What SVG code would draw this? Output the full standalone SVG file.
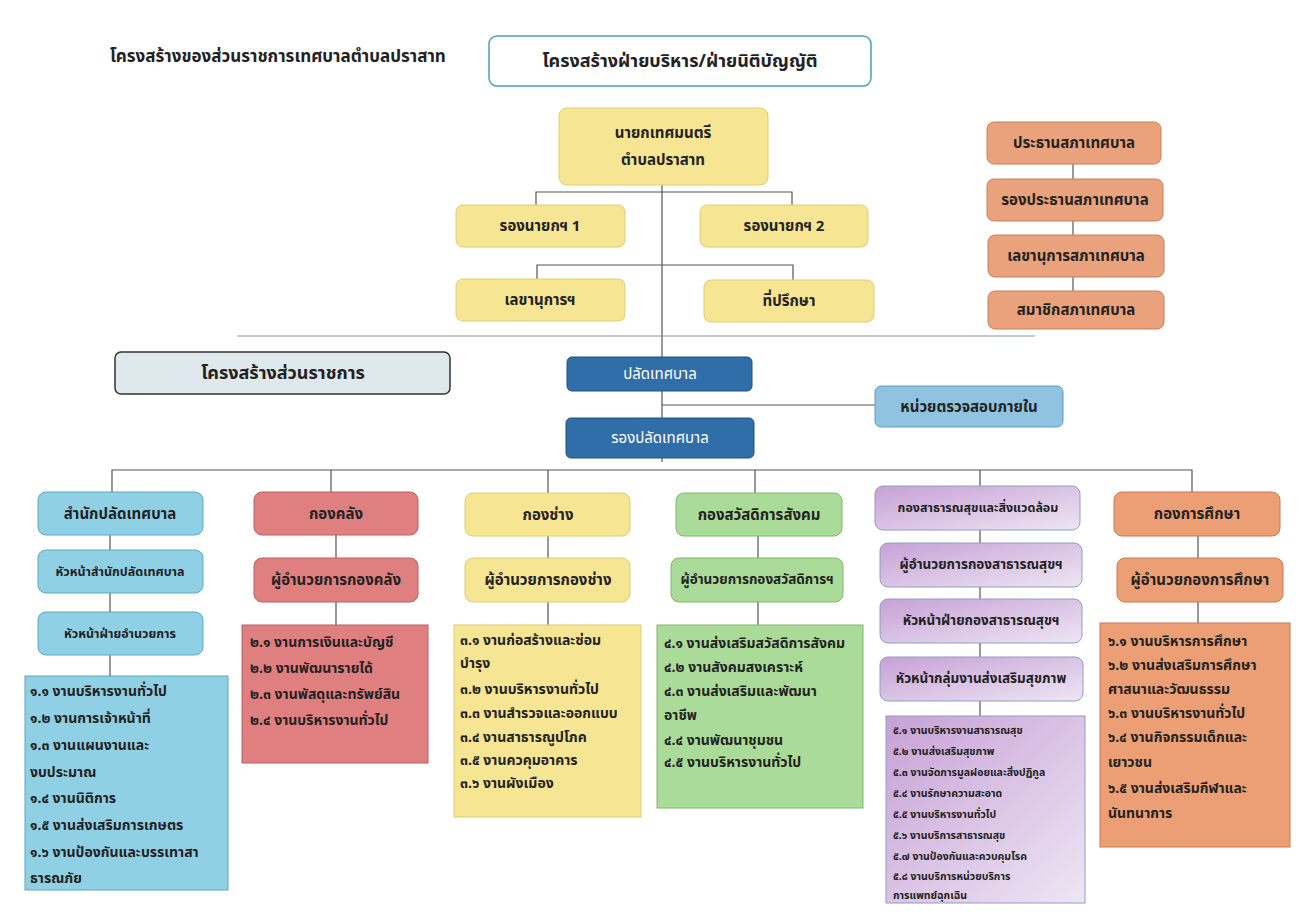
<svg xmlns="http://www.w3.org/2000/svg" width="1300" height="917" viewBox="0 0 1300 917">
<defs>
<style>
text{font-family:"Noto Sans Thai","Noto Sans","DejaVu Sans",sans-serif;font-weight:bold;fill:#222;font-size:15px}
.c{text-anchor:middle;dominant-baseline:central}
.ln{stroke:#555;stroke-width:1.2;fill:none}
.y{fill:#f6e592;stroke:#e0cc70}
.o{fill:#e9a27c;stroke:#c97e58}
.b1{fill:#8fd0e5;stroke:#5aa8c4}
.r{fill:#e07f80;stroke:#b86060}
.g{fill:#abdb98;stroke:#7fb76e}
.p{fill:url(#pg);stroke:#8aa0c4}
.or{fill:#ec9f74;stroke:#c87a50}
.db{fill:#2f6ea9;stroke:#21527f}
.lst text{font-size:14px}
.sm text{font-size:10.5px}
</style>
<linearGradient id="pg" x1="0" y1="0" x2="1" y2="1"><stop offset="0" stop-color="#c7a1d6"/><stop offset="1" stop-color="#eee6f4"/></linearGradient>
</defs>
<rect width="1300" height="917" fill="#fff"/>
<text x="110" y="57" style="font-size:17px" dominant-baseline="central">โครงสร้างของส่วนราชการเทศบาลตำบลปราสาท</text>
<g id="connectors" class="ln">
<path d="M662 185V462M536 205V192H792V205M537 280V265H793V280M662 405H875"/>
<path d="M1073 164V291"/>
<path d="M237 336H1035" stroke="#7f98a8"/>
<path d="M112 492V470H1192V492M331 470V492M548 470V493M755 470V493M980 470V486"/>
<path d="M110 535V550M110 593V612M110 655V676M336 535V558M336 602V625M548 536V558M548 602V625M758 536V558M758 602V625M980 530V543M980 587V599M980 643V657M980 701V716M1198 536V558M1198 602V623"/>
</g>
<g id="header"><rect x="489" y="36" width="382" height="50" rx="8" fill="#fff" stroke="#4aa3b2" stroke-width="1.5"/><text class="c" x="680" y="61" style="font-size:18px">โครงสร้างฝ่ายบริหาร/ฝ่ายนิติบัญญัติ</text></g>
<g id="mayor"><rect class="y" x="559" y="108" width="209" height="77" rx="8"/><text class="c" x="663" y="133">นายกเทศมนตรี</text><text class="c" x="663" y="160">ตำบลปราสาท</text></g>
<g id="deputy1"><rect class="y" x="456" y="205" width="169" height="42" rx="7"/><text class="c" x="540" y="226">รองนายกฯ 1</text></g>
<g id="deputy2"><rect class="y" x="700" y="205" width="168" height="42" rx="7"/><text class="c" x="784" y="226">รองนายกฯ 2</text></g>
<g id="secretary"><rect class="y" x="456" y="279" width="169" height="42" rx="7"/><text class="c" x="540" y="300">เลขานุการฯ</text></g>
<g id="advisor"><rect class="y" x="704" y="280" width="170" height="42" rx="7"/><text class="c" x="789" y="301">ที่ปรึกษา</text></g>
<g id="council1"><rect class="o" x="987" y="122" width="174" height="42" rx="7"/><text class="c" x="1074" y="143">ประธานสภาเทศบาล</text></g>
<g id="council2"><rect class="o" x="987" y="179" width="176" height="42" rx="7"/><text class="c" x="1075" y="200">รองประธานสภาเทศบาล</text></g>
<g id="council3"><rect class="o" x="988" y="235" width="176" height="42" rx="7"/><text class="c" x="1076" y="256">เลขานุการสภาเทศบาล</text></g>
<g id="council4"><rect class="o" x="988" y="291" width="176" height="38" rx="7"/><text class="c" x="1076" y="310">สมาชิกสภาเทศบาล</text></g>
<g id="govlabel"><rect x="115" y="352" width="335" height="42" rx="6" fill="#dfe8ec" stroke="#333" stroke-width="1.5"/><text class="c" x="283" y="373" style="font-size:18px">โครงสร้างส่วนราชการ</text></g>
<g id="palad"><rect class="db" x="567" y="357" width="185" height="34" rx="5"/><text class="c" x="660" y="374" style="fill:#fff;font-weight:normal">ปลัดเทศบาล</text></g>
<g id="rongpalad"><rect class="db" x="566" y="418" width="188" height="40" rx="5"/><text class="c" x="660" y="438" style="fill:#fff;font-weight:normal">รองปลัดเทศบาล</text></g>
<g id="audit"><rect x="875" y="386" width="188" height="41" rx="6" fill="#8fc3e0" stroke="#5f9cc2"/><text class="c" x="969" y="407">หน่วยตรวจสอบภายใน</text></g>

<g id="col1">
<rect class="b1" x="38" y="492" width="165" height="43" rx="8"/><text class="c" x="120" y="514">สำนักปลัดเทศบาล</text>
<rect class="b1" x="38" y="550" width="165" height="43" rx="8"/><text class="c" x="120" y="572" style="font-size:12.5px">หัวหน้าสำนักปลัดเทศบาล</text>
<rect class="b1" x="38" y="612" width="165" height="43" rx="8"/><text class="c" x="120" y="634" style="font-size:12.5px">หัวหน้าฝ่ายอำนวยการ</text>
<rect class="b1" x="25" y="676" width="203" height="214"/>
<g class="lst"><text x="30" y="696">๑.๑ งานบริหารงานทั่วไป</text><text x="30" y="723">๑.๒ งานการเจ้าหน้าที่</text><text x="30" y="750">๑.๓ งานแผนงานและ</text><text x="30" y="777">งบประมาณ</text><text x="30" y="803">๑.๔ งานนิติการ</text><text x="30" y="830">๑.๕ งานส่งเสริมการเกษตร</text><text x="30" y="857">๑.๖ งานป้องกันและบรรเทาสา</text><text x="30" y="883">ธารณภัย</text></g>
</g>
<g id="col2">
<rect class="r" x="254" y="492" width="164" height="43" rx="8"/><text class="c" x="336" y="514">กองคลัง</text>
<rect class="r" x="254" y="558" width="164" height="44" rx="8"/><text class="c" x="336" y="580">ผู้อำนวยการกองคลัง</text>
<rect class="r" x="242" y="625" width="186" height="138"/>
<g class="lst"><text x="250" y="647">๒.๑ งานการเงินและบัญชี</text><text x="250" y="673">๒.๒ งานพัฒนารายได้</text><text x="250" y="699">๒.๓ งานพัสดุและทรัพย์สิน</text><text x="250" y="725">๒.๔ งานบริหารงานทั่วไป</text></g>
</g>
<g id="col3">
<rect class="y" x="465" y="493" width="165" height="43" rx="8"/><text class="c" x="548" y="515">กองช่าง</text>
<rect class="y" x="465" y="558" width="165" height="44" rx="8"/><text class="c" x="548" y="580">ผู้อำนวยการกองช่าง</text>
<rect class="y" x="454" y="625" width="187" height="192"/>
<g class="lst"><text x="460" y="645">๓.๑ งานก่อสร้างและซ่อม</text><text x="460" y="668">บำรุง</text><text x="460" y="694">๓.๒ งานบริหารงานทั่วไป</text><text x="460" y="718">๓.๓ งานสำรวจและออกแบบ</text><text x="460" y="742">๓.๔ งานสาธารณูปโภค</text><text x="460" y="765">๓.๕ งานควคุมอาคาร</text><text x="460" y="788">๓.๖ งานผังเมือง</text></g>
</g>
<g id="col4">
<rect class="g" x="676" y="493" width="166" height="43" rx="8"/><text class="c" x="759" y="515">กองสวัสดิการสังคม</text>
<rect class="g" x="671" y="558" width="172" height="44" rx="8"/><text class="c" x="757" y="580" style="font-size:13.5px">ผู้อำนวยการกองสวัสดิการฯ</text>
<rect class="g" x="657" y="625" width="206" height="183"/>
<g class="lst"><text x="664" y="648">๔.๑ งานส่งเสริมสวัสดิการสังคม</text><text x="664" y="672">๔.๒ งานสังคมสงเคราะห์</text><text x="664" y="696">๔.๓ งานส่งเสริมและพัฒนา</text><text x="664" y="720">อาชีพ</text><text x="664" y="745">๔.๔ งานพัฒนาชุมชน</text><text x="664" y="767">๔.๕ งานบริหารงานทั่วไป</text></g>
</g>
<g id="col5">
<rect class="p" x="875" y="486" width="205" height="44" rx="8"/><text class="c" x="978" y="508" style="font-size:12.5px">กองสาธารณสุขและสิ่งแวดล้อม</text>
<rect class="p" x="880" y="543" width="202" height="44" rx="8"/><text class="c" x="981" y="565" style="font-size:13.5px">ผู้อำนวยการกองสาธารณสุขฯ</text>
<rect class="p" x="880" y="599" width="202" height="44" rx="8"/><text class="c" x="981" y="621" style="font-size:13.5px">หัวหน้าฝ่ายกองสาธารณสุขฯ</text>
<rect class="p" x="880" y="657" width="203" height="44" rx="8"/><text class="c" x="981" y="679" style="font-size:13.5px">หัวหน้ากลุ่มงานส่งเสริมสุขภาพ</text>
<rect class="p" x="886" y="716" width="199" height="187"/>
<g class="sm"><text x="893" y="734">๕.๑ งานบริหารงานสาธารณสุข</text><text x="893" y="755">๕.๒ งานส่งเสริมสุขภาพ</text><text x="893" y="776">๕.๓ งานจัดการมูลฝอยและสิ่งปฏิกูล</text><text x="893" y="797">๕.๔ งานรักษาความสะอาด</text><text x="893" y="818">๕.๕ งานบริหารงานทั่วไป</text><text x="893" y="839">๕.๖ งานบริการสาธารณสุข</text><text x="893" y="860">๕.๗ งานป้องกันและควบคุมโรค</text><text x="893" y="880">๕.๘ งานบริการหน่วยบริการ</text><text x="893" y="899">การแพทย์ฉุกเฉิน</text></g>
</g>
<g id="col6">
<rect class="or" x="1114" y="492" width="166" height="44" rx="8"/><text class="c" x="1197" y="514">กองการศึกษา</text>
<rect class="or" x="1117" y="558" width="166" height="44" rx="8"/><text class="c" x="1200" y="580">ผู้อำนวยกองการศึกษา</text>
<rect class="or" x="1100" y="623" width="190" height="224"/>
<g class="lst"><text x="1108" y="646">๖.๑ งานบริหารการศึกษา</text><text x="1108" y="670">๖.๒ งานส่งเสริมการศึกษา</text><text x="1108" y="694">ศาสนาและวัฒนธรรม</text><text x="1108" y="718">๖.๓ งานบริหารงานทั่วไป</text><text x="1108" y="742">๖.๔ งานกิจกรรมเด็กและ</text><text x="1108" y="767">เยาวชน</text><text x="1108" y="793">๖.๕ งานส่งเสริมกีฬาและ</text><text x="1108" y="818">นันทนาการ</text></g>
</g>
</svg>
